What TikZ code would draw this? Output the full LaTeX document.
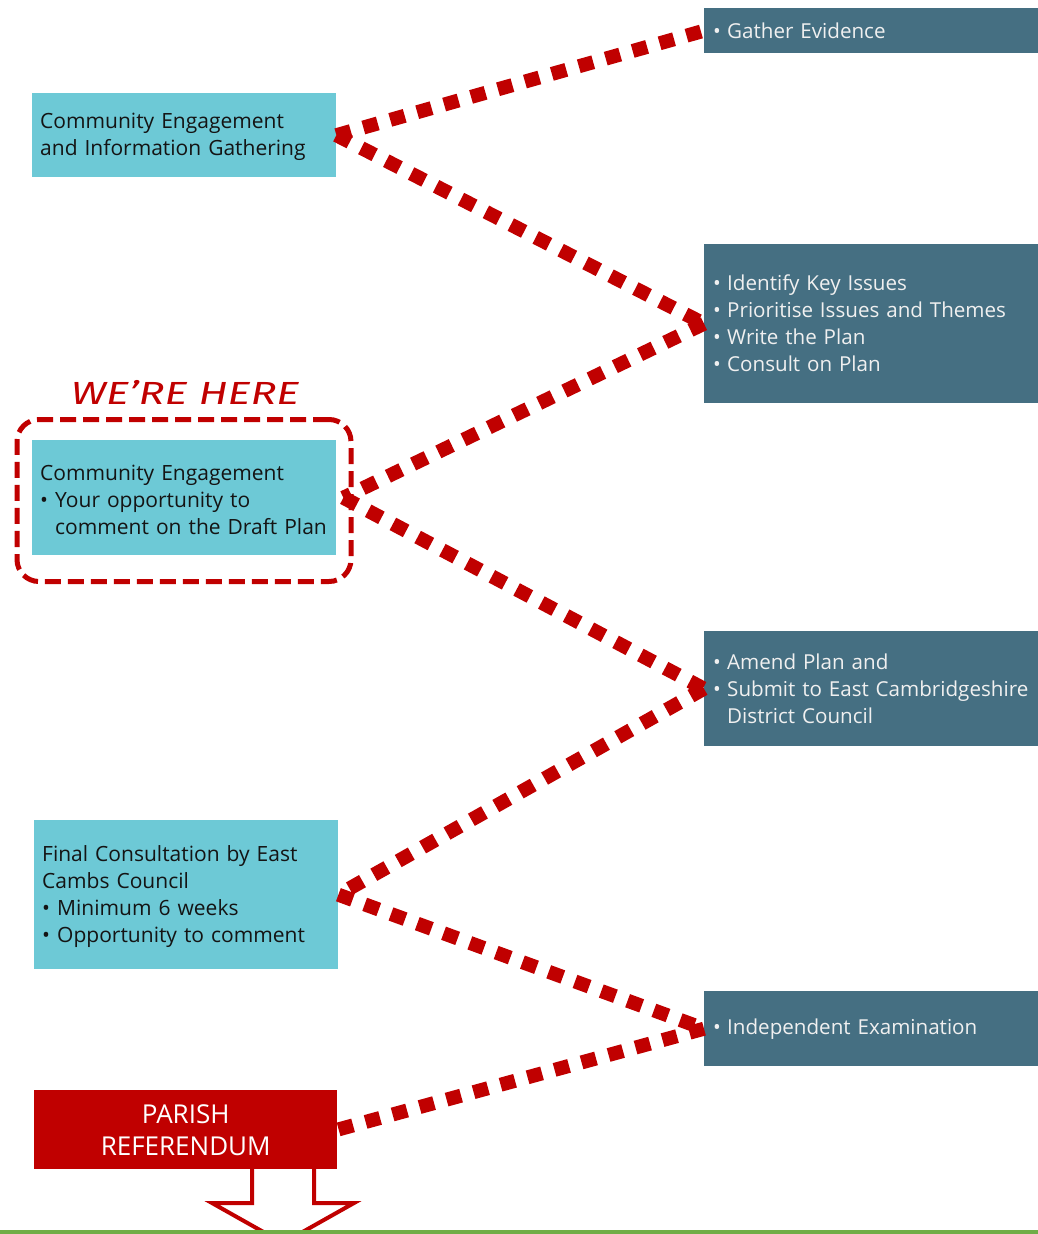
\documentclass[tikz,border=0pt]{standalone}
\usepackage{fontspec}
\setmainfont{Open Sans}
\newfontfamily\handfont{Fira Sans}
\definecolor{lightbox}{HTML}{6DC9D6}
\definecolor{darkbox}{HTML}{456F82}
\definecolor{rd}{HTML}{C00000}
\definecolor{grn}{HTML}{70AD47}
\newcommand\bul{\makebox[15pt][l]{•}}
\newcommand\rbul{\makebox[14pt][l]{•}}
\newcommand\ind{\hspace*{15pt}}
\newcommand\rind{\hspace*{14pt}}
\begin{document}
\begin{tikzpicture}[x=1pt,y=-1pt,
  basebox/.style={anchor=north west, align=left, inner ysep=0pt},
  lbox/.style={basebox, fill=lightbox, text=black!92, inner xsep=8pt, font=\fontsize{21}{27}\selectfont},
  rbox/.style={basebox, fill=darkbox, text=white!94!black, inner xsep=9pt, font=\fontsize{20.6}{27}\selectfont},
  conn/.style={draw=rd, line width=14pt, dash pattern=on 15pt off 13pt},
  herebox/.style={draw=rd, line width=5pt, dash pattern=on 16pt off 7pt, rounded corners=22pt, anchor=north west, inner sep=0pt}]
\useasboundingbox (0,0) rectangle (1038,1234);
\clip (0,0) rectangle (1038,1234);
\fill[white] (0,0) rectangle (1038,1234);

% left boxes
\node[lbox, text width=288pt, minimum height=84pt] (l1) at (32,93)
  {\rule{0pt}{19pt}Community Engagement\\and Information Gathering};
\node[lbox, text width=288pt, minimum height=115pt] (l2) at (32,440)
  {\rule{0pt}{19pt}Community Engagement\\\bul Your opportunity to\\\ind comment on the Draft Plan};
\node[lbox, text width=288pt, minimum height=149pt] (l3) at (34,820)
  {\rule{0pt}{19pt}Final Consultation by East\\Cambs Council\\\bul Minimum 6 weeks\\\bul Opportunity to comment};
\node[anchor=north west, fill=rd, text=white, align=center, minimum width=303pt, minimum height=79pt, inner sep=0pt, font=\fontsize{26}{32}\selectfont] (ref) at (34,1090)
  {PARISH\\REFERENDUM};

% right boxes
\node[rbox, text width=330pt, minimum height=45pt] (r1) at (704,8)
  {\rbul Gather Evidence};
\node[rbox, text width=330pt, minimum height=159pt] (r2) at (704,244)
  {\rbul Identify Key Issues\\\rbul Prioritise Issues and Themes\\\rbul Write the Plan\\\rbul Consult on Plan};
\node[rbox, text width=330pt, minimum height=115pt] (r3) at (704,631)
  {\rbul Amend Plan and\\\rbul Submit to East Cambridgeshire\\\rind District Council};
\node[rbox, text width=330pt, minimum height=75pt] (r4) at (704,991)
  {\rbul Independent Examination};

% we're here
\node[herebox, minimum width=334pt, minimum height=162pt] (frame) at (14.5,417) {};
\node[text=rd, xscale=1.35, font=\handfont\itshape\fontsize{32}{32}\selectfont] (here) at (185,392) {WE’RE HERE};

% connectors
\coordinate (l2e) at ([xshift=7pt]l2.east);
\draw[conn] (l1.east) -- (r1.west);
\draw[conn] (l1.east) -- (r2.west);
\draw[conn] (r2.west) -- (l2e);
\draw[conn] (l2e) -- (r3.west);
\draw[conn] (r3.west) -- (l3.east);
\draw[conn] (l3.east) -- (r4.west);
\draw[conn] (r4.west) -- (ref.east);

% hollow arrow
\draw[rd, line width=4pt, fill=white, line join=miter]
  (252,1169) -- (252,1203) -- (212,1203) -- (283,1243) -- (354,1203) -- (314,1203) -- (314,1169);
\fill[grn] (0,1230) rectangle (1038,1234);
\end{tikzpicture}
\end{document}
